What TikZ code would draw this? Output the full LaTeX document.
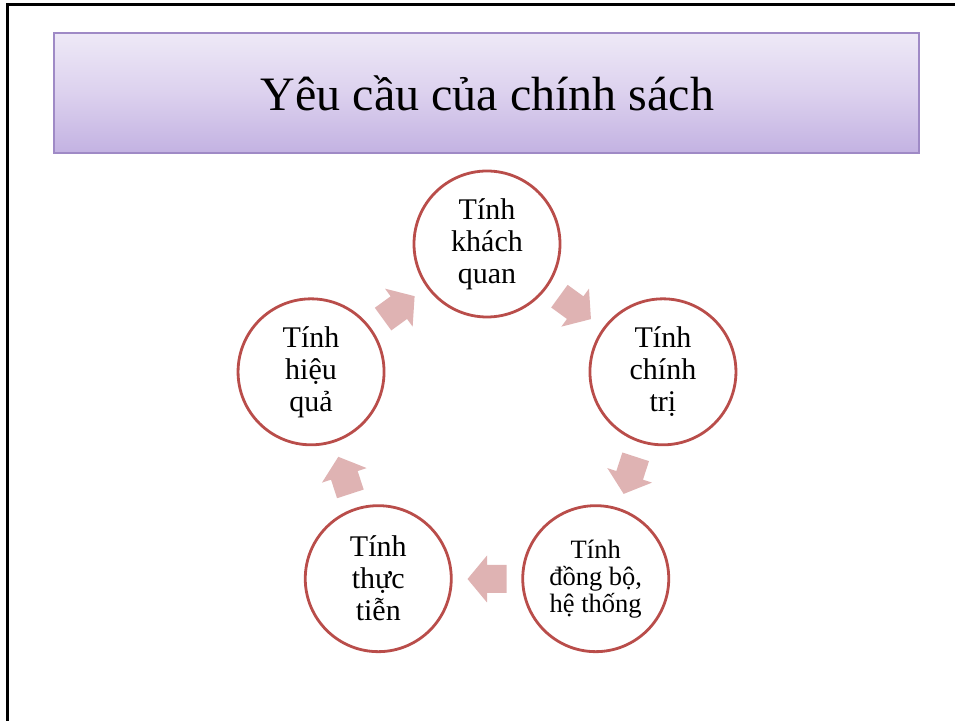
\documentclass[tikz,border=0pt]{standalone}
\usepackage{fontspec}
\setmainfont{Liberation Serif}
\usepackage{xcolor}
\definecolor{headtop}{HTML}{EEE9F7}
\definecolor{headmid}{HTML}{DCD1EE}
\definecolor{headbot}{HTML}{C3B2E2}
\definecolor{headedge}{HTML}{9F8AC6}
\definecolor{ringedge}{HTML}{B94D4A}
\definecolor{arrowfill}{HTML}{DFB3B3}
\usetikzlibrary{calc}

\begin{document}
\begin{tikzpicture}[
  x=1pt, y=1pt,
  ring/.style={
    circle, draw=ringedge, line width=2.8pt, fill=white,
    minimum size=146pt, inner sep=0pt, align=center,
    font=\fontsize{30}{32}\selectfont
  },
  smallring/.style={ring, font=\fontsize{26.5}{27}\selectfont},
  cyclearrow/.style={fill=arrowfill}
]
  \useasboundingbox (0,0) rectangle (955,720);
  \draw[line width=3pt] (7,-2) -- (7,715) -- (957,715);

  % header bar
  \node[draw=headedge, line width=1.2pt, top color=headtop,
        bottom color=headbot, middle color=headmid,
        minimum width=865pt, minimum height=120pt] (header) at (486.5,627) {};
  \node[font=\fontsize{48}{52}\selectfont, anchor=base] (title) at (487.5,609)
    {Yêu cầu của chính sách};

  % cycle
  \coordinate (c) at (487,291);
  \node[ring] (khach) at ($(c)+(90:185)$) {Tính\\khách\\quan};
  \node[ring] (chinh) at ($(c)+(18:185)$) {Tính\\chính\\trị};
  \node[smallring] (dongbo) at ($(c)+(-54:185)$) {Tính\\đồng bộ,\\hệ thống};
  \node[ring] (thuc) at ($(c)+(-126:185)$) {Tính\\thực\\tiễn};
  \node[ring] (hieu) at ($(c)+(162:185)$) {Tính\\hiệu\\quả};

  \foreach \a in {54,-18,-90,-162,126} {
    \fill[cyclearrow, shift={($(c)+(\a:150)$)}, rotate=\a-90]
      (-19.5,-14) -- (0,-14) -- (0,-23.5) -- (19.5,0) -- (0,23.5)
      -- (0,14) -- (-19.5,14) -- cycle;
  }
\end{tikzpicture}
\end{document}
